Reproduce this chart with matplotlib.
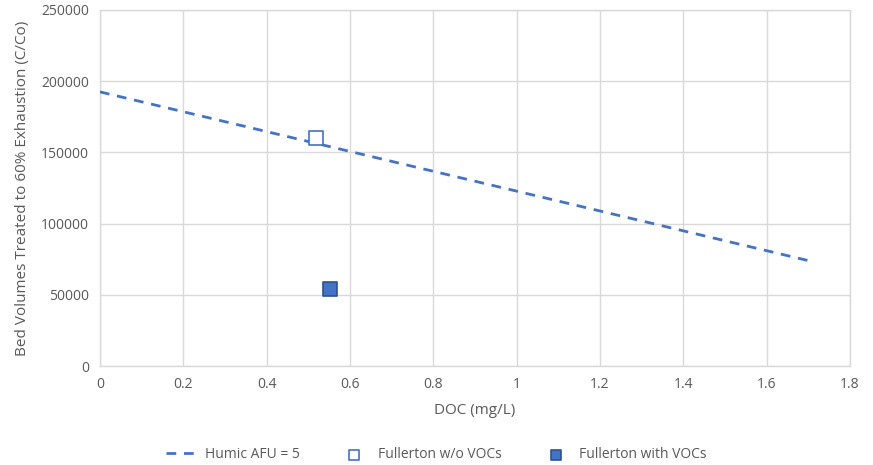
import matplotlib
matplotlib.use("Agg")
import matplotlib.pyplot as plt

# Humic AFU = 5 trend line (DOC, bed volumes)
humic_doc = [0.0, 1.70]
humic_bv = [192500, 74000]

# Fullerton measurements
fullerton_novoc_doc = [0.518]
fullerton_novoc_bv = [160000]
fullerton_voc_doc = [0.553]
fullerton_voc_bv = [54000]

x_ticks = [0, 0.2, 0.4, 0.6, 0.8, 1, 1.2, 1.4, 1.6, 1.8]
x_tick_labels = ["0", "0.2", "0.4", "0.6", "0.8", "1", "1.2", "1.4", "1.6", "1.8"]
y_ticks = [0, 50000, 100000, 150000, 200000, 250000]

plt.rcParams['font.family'] = ['Open Sans', 'DejaVu Sans']
text_color = "#595959"
blue = "#4472C4"

fig = plt.figure(figsize=(8.73, 4.65), dpi=100)
ax = fig.add_axes([0.1145, 0.2129, 0.8592, 0.7656])

ax.plot(humic_doc, humic_bv, color=blue, lw=2.0, linestyle=(0, (3.5, 2.8)),
        label="Humic AFU = 5", zorder=3)
ax.scatter(fullerton_novoc_doc, fullerton_novoc_bv, marker="s", s=110,
           facecolor="white", edgecolor=blue, linewidth=1.2,
           label="Fullerton w/o VOCs", zorder=4)
ax.scatter(fullerton_voc_doc, fullerton_voc_bv, marker="s", s=110,
           facecolor=blue, edgecolor="#2F528F", linewidth=1.2,
           label="Fullerton with VOCs", zorder=4)

ax.set_xlim(0, 1.8)
ax.set_ylim(0, 250000)
ax.set_xticks(x_ticks)
ax.set_xticklabels(x_tick_labels)
ax.set_yticks(y_ticks)
ax.set_yticklabels([str(v) for v in y_ticks])

ax.grid(True, color="#d9d9d9", linewidth=1.0, zorder=0)
ax.set_axisbelow(True)
for s in ax.spines.values():
    s.set_color("#d9d9d9")
    s.set_linewidth(1.0)
ax.tick_params(length=0, colors=text_color, labelsize=10, pad=8)

ax.set_xlabel("DOC (mg/L)", color=text_color, fontsize=11, labelpad=8)
ax.set_ylabel("Bed Volumes Treated to 60% Exhaustion (C/Co)", color=text_color,
              fontsize=11, labelpad=8)

leg = fig.legend(loc="center", bbox_to_anchor=(0.5, 0.022), ncol=3,
                 frameon=False, fontsize=10, handlelength=2.2,
                 columnspacing=2.8, handletextpad=0.6, markerscale=0.75)
for t in leg.get_texts():
    t.set_color(text_color)

fig.savefig("out.png", dpi=100)
